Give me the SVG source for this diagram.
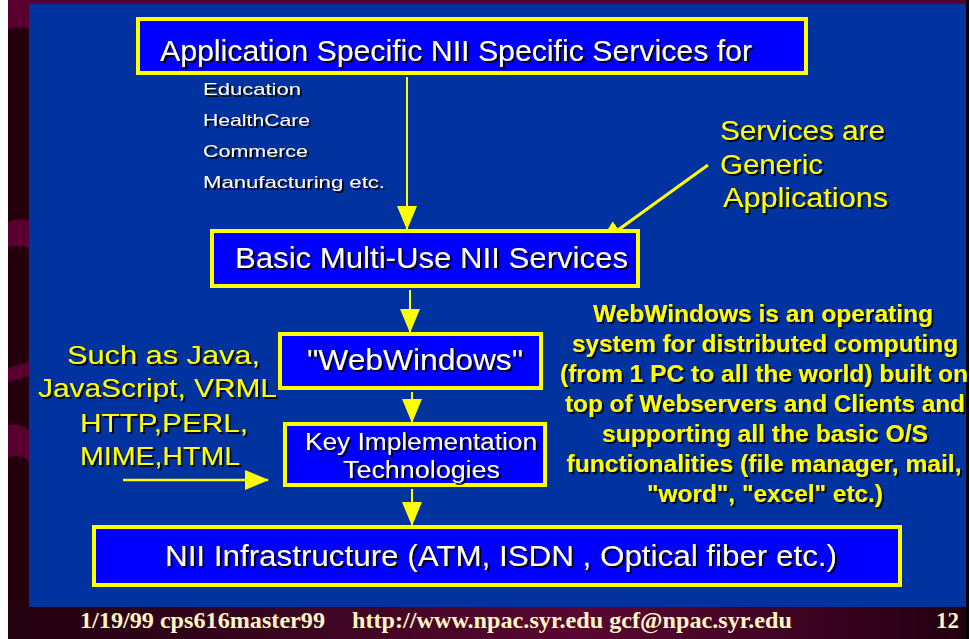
<svg xmlns="http://www.w3.org/2000/svg" width="970" height="639" viewBox="0 0 970 639">
<defs>
<style>
.box{fill:#0000ff;stroke:#ffff00;stroke-width:4}
.wt{fill:#ffffff;font-family:"Liberation Sans",Arial,sans-serif;filter:url(#sh)}
.yt{fill:#ffff00;font-family:"Liberation Sans",Arial,sans-serif;filter:url(#sh)}
.yb{fill:#ffff00;font-family:"Liberation Sans",Arial,sans-serif;font-weight:bold;font-size:24px;text-anchor:middle;filter:url(#sh)}
.ft{fill:#fff6c4;font-family:"Liberation Serif","Times New Roman",serif;font-weight:bold;font-size:23px}
.ln{stroke:#ffff00;fill:none}
</style>
<filter id="sh" x="-5%" y="-20%" width="110%" height="150%">
<feDropShadow dx="2" dy="2" stdDeviation="0" flood-color="#000000" flood-opacity="0.9"/>
</filter>
<marker id="ah" markerUnits="userSpaceOnUse" viewBox="0 0 24 20" refX="23" refY="10" markerWidth="24" markerHeight="20" orient="auto">
<path d="M0,0 L24,10 L0,20 z" fill="#ffff00"/>
</marker>
<linearGradient id="fg" x1="0" y1="0" x2="1" y2="0">
<stop offset="0" stop-color="#22000e"/>
<stop offset="0.3" stop-color="#3a0520"/>
<stop offset="0.6" stop-color="#5a0632"/>
<stop offset="0.85" stop-color="#3a0320"/>
<stop offset="1" stop-color="#22000e"/>
</linearGradient>
</defs>
<g id="background">
<rect x="0" y="0" width="970" height="639" fill="#ffffff"/>
<rect x="8" y="0" width="961" height="639" fill="#24000f"/>
<rect x="8" y="0" width="961" height="4" fill="#5a0030"/>
<path d="M8,0 H29 V28 Q18,26 8,29 Z" fill="#5a0030"/>
<path d="M8,222 Q18,218 29,220 V248 Q18,244 8,247 Z" fill="#5a0030"/>
<path d="M8,368 L29,362 V376 L8,382 Z" fill="#5a0030"/>
<path d="M8,425 Q20,423 29,430 V462 Q20,452 8,458 Z" fill="#5a0030"/>
<rect x="8" y="607" width="958" height="32" fill="url(#fg)"/>
<rect x="966" y="0" width="3" height="639" fill="#000000"/>
<rect x="29" y="4" width="937" height="603" fill="#0033a0"/>
</g>
<g id="connectors">
<line class="ln" x1="407" y1="77" x2="407" y2="229" stroke-width="2" marker-end="url(#ah)"/>
<line class="ln" x1="410" y1="290" x2="410" y2="332" stroke-width="2" marker-end="url(#ah)"/>
<line class="ln" x1="412" y1="392" x2="412" y2="422" stroke-width="2" marker-end="url(#ah)"/>
<line class="ln" x1="412" y1="489" x2="412" y2="525" stroke-width="2" marker-end="url(#ah)"/>
<line class="ln" x1="708" y1="165" x2="600" y2="243" stroke-width="3" marker-end="url(#ah)"/>
<line class="ln" x1="123" y1="480" x2="268" y2="480" stroke-width="2.5" marker-end="url(#ah)"/>
</g>
<g id="n-app">
<rect class="box" x="138" y="19" width="668" height="54"/>
<text class="wt" x="160" y="61" font-size="30" textLength="592" lengthAdjust="spacingAndGlyphs">Application Specific NII Specific Services for</text>
</g>
<g id="n-app-list">
<text class="wt" x="203" y="95" font-size="17" textLength="98" lengthAdjust="spacingAndGlyphs">Education</text>
<text class="wt" x="203" y="126" font-size="17" textLength="107" lengthAdjust="spacingAndGlyphs">HealthCare</text>
<text class="wt" x="203" y="157" font-size="17" textLength="105" lengthAdjust="spacingAndGlyphs">Commerce</text>
<text class="wt" x="203" y="188" font-size="17" textLength="182" lengthAdjust="spacingAndGlyphs">Manufacturing etc.</text>
</g>
<g id="n-basic">
<rect class="box" x="212" y="231" width="426" height="55"/>
<text class="wt" x="235" y="268" font-size="30" textLength="393" lengthAdjust="spacingAndGlyphs">Basic Multi-Use NII Services</text>
</g>
<g id="n-webwindows">
<rect class="box" x="280" y="334" width="261" height="54"/>
<text class="wt" x="307" y="370" font-size="30" textLength="216" lengthAdjust="spacingAndGlyphs">"WebWindows"</text>
</g>
<g id="n-key">
<rect class="box" x="285" y="424" width="260" height="61"/>
<text class="wt" x="305" y="450" font-size="23" textLength="232" lengthAdjust="spacingAndGlyphs">Key Implementation</text>
<text class="wt" x="343" y="478" font-size="23" textLength="157" lengthAdjust="spacingAndGlyphs">Technologies</text>
</g>
<g id="n-nii">
<rect class="box" x="94" y="527" width="806" height="58"/>
<text class="wt" x="165" y="566" font-size="30" textLength="672" lengthAdjust="spacingAndGlyphs">NII Infrastructure (ATM, ISDN , Optical fiber etc.)</text>
</g>
<g id="n-services-note">
<text class="yt" x="720" y="140" font-size="27" textLength="165" lengthAdjust="spacingAndGlyphs">Services are</text>
<text class="yt" x="720" y="174" font-size="27" textLength="103" lengthAdjust="spacingAndGlyphs">Generic</text>
<text class="yt" x="723" y="207" font-size="27" textLength="165" lengthAdjust="spacingAndGlyphs">Applications</text>
</g>
<g id="n-tech-note">
<text class="yt" x="67" y="364" font-size="26" textLength="193" lengthAdjust="spacingAndGlyphs">Such as Java,</text>
<text class="yt" x="38" y="397" font-size="26" textLength="239" lengthAdjust="spacingAndGlyphs">JavaScript, VRML</text>
<text class="yt" x="80" y="432" font-size="26" textLength="168" lengthAdjust="spacingAndGlyphs">HTTP,PERL,</text>
<text class="yt" x="80" y="465" font-size="26" textLength="160" lengthAdjust="spacingAndGlyphs">MIME,HTML</text>
</g>
<g id="n-webwindows-note">
<text class="yb" x="763" y="322" textLength="340" lengthAdjust="spacingAndGlyphs">WebWindows is an operating</text>
<text class="yb" x="765" y="352" textLength="386" lengthAdjust="spacingAndGlyphs">system for distributed computing</text>
<text class="yb" x="764" y="382" textLength="408" lengthAdjust="spacingAndGlyphs">(from 1 PC to all the world) built on</text>
<text class="yb" x="765" y="412" textLength="400" lengthAdjust="spacingAndGlyphs">top of Webservers and Clients and</text>
<text class="yb" x="765" y="442" textLength="326" lengthAdjust="spacingAndGlyphs">supporting all the basic O/S</text>
<text class="yb" x="764" y="472" textLength="395" lengthAdjust="spacingAndGlyphs">functionalities (file manager, mail,</text>
<text class="yb" x="765" y="502" textLength="236" lengthAdjust="spacingAndGlyphs">"word", "excel" etc.)</text>
</g>
<g id="footer">
<text class="ft" x="80" y="628" textLength="245" lengthAdjust="spacingAndGlyphs">1/19/99 cps616master99</text>
<text class="ft" x="352" y="628" textLength="440" lengthAdjust="spacingAndGlyphs">http://www.npac.syr.edu gcf@npac.syr.edu</text>
<text class="ft" x="936" y="628" textLength="23" lengthAdjust="spacingAndGlyphs">12</text>
</g>
</svg>
